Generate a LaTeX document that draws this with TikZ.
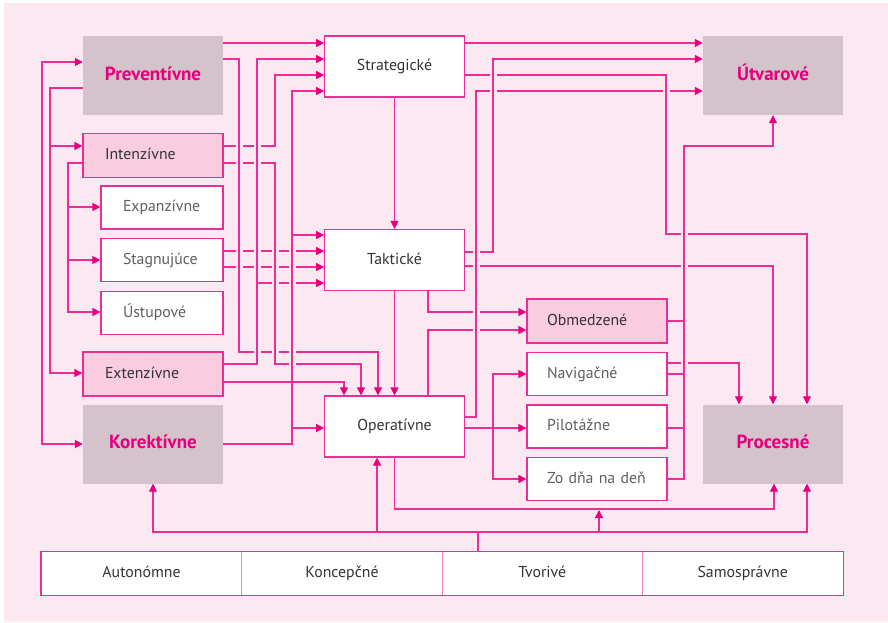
\documentclass[tikz,border=0pt]{standalone}
\usepackage{fontspec}
\setmainfont{PT Sans}
\usetikzlibrary{arrows.meta}
\definecolor{bgc}{RGB}{252,232,241}
\definecolor{lnc}{RGB}{236,45,148}
\definecolor{arc}{RGB}{230,0,126}
\definecolor{grayfill}{RGB}{212,195,202}
\definecolor{pinkfill}{RGB}{249,204,224}
\definecolor{txtdark}{RGB}{51,51,51}
\definecolor{txtgray}{RGB}{95,95,95}
\definecolor{divc}{RGB}{242,130,185}
\newcommand\gapmark[2]{\fill[bgc] (#1-3.5,#2-1.8) rectangle (#1+3.5,#2+1.8); \draw[conn] (#1,#2-2.4) -- (#1,#2+2.4);}
\begin{document}
\begin{tikzpicture}[x=1pt,y=-1pt,
  conn/.style={draw=lnc, line width=1.25pt},
  ar/.style={-{Triangle[length=8pt,width=8pt,color=arc]}},
  bothar/.style={{Triangle[length=8pt,width=8pt,color=arc]}-{Triangle[length=8pt,width=8pt,color=arc]}},
  regtext/.style={font=\fontsize{15.8}{18}\selectfont, text height=12pt, text depth=3.5pt},
  graybox/.style={fill=grayfill, minimum width=140pt, minimum height=79pt, inner sep=0pt,
    font=\bfseries\fontsize{19}{21}\selectfont, text height=13.5pt, text depth=4pt, text=arc},
  mainbox/.style={draw=lnc, line width=1.25pt, fill=white, minimum width=139.5pt, minimum height=61pt,
    inner sep=0pt, regtext, text=txtdark},
  pinkbox/.style={draw=lnc, line width=1.25pt, fill=pinkfill, minimum height=44pt, inner ysep=0pt,
    inner xsep=22pt, text width=96pt, align=left, regtext, text=txtdark},
  subbox/.style={draw=lnc, line width=1.25pt, fill=white, minimum height=43pt, inner ysep=0pt,
    inner xsep=22pt, text width=78pt, align=left, regtext, text=txtgray},
  rbox/.style={draw=lnc, line width=1.25pt, fill=white, minimum height=43pt, inner ysep=0pt,
    inner xsep=20pt, text width=100pt, align=left, regtext, text=txtgray},
  barcell/.style={fill=white, minimum width=200.5pt, minimum height=43pt, inner sep=0pt,
    regtext, text=txtdark}
]
\useasboundingbox (0,0) rectangle (888,622);
\fill[bgc] (4,3) rectangle (888,622);

% left column
\node[graybox] (prev) at (153,75.5) {Preventívne};
\node[pinkbox] (inten) at (153,155.5) {\mbox{Intenzívne}};
\node[subbox] (expan) at (162,207.5) {\mbox{Expanzívne}};
\node[subbox] (stag) at (162,260) {\mbox{Stagnujúce}};
\node[subbox] (ustup) at (162,313) {\mbox{Ústupové}};
\node[pinkbox] (exten) at (153,374) {\mbox{Extenzívne}};
\node[graybox] (korek) at (153,444) {Korektívne};
% middle column
\node[mainbox] (strat) at (394.5,66.5) {Strategické};
\node[mainbox] (takt) at (394.5,260) {Taktické};
\node[mainbox] (oper) at (394.5,426.5) {Operatívne};
% right-middle column
\node[rbox, fill=pinkfill, text=txtdark, minimum height=44pt] (obmed) at (597,321) {\mbox{Obmedzené}};
\node[rbox] (navig) at (597,374) {\mbox{Navigačné}};
\node[rbox] (pilot) at (597,426.5) {\mbox{Pilotážne}};
\node[rbox] (zodna) at (597,479) {\mbox{Zo dňa na deň}};
% right column
\node[graybox] (utvar) at (773,75.5) {Útvarové};
\node[graybox] (proc) at (773,444) {Procesné};
% bottom bar
\node[barcell] (auton) at (141.5,573.5) {Autonómne};
\node[barcell] (konc) at (342,573.5) {Koncepčné};
\node[barcell] (tvor) at (542.3,573.5) {Tvorivé};
\node[barcell] (samo) at (742.7,573.5) {Samosprávne};
\draw[divc, line width=1pt] (auton.north east) -- (auton.south east);
\draw[divc, line width=1pt] (konc.north east) -- (konc.south east);
\draw[divc, line width=1pt] (tvor.north east) -- (tvor.south east);
\draw[lnc, line width=1.25pt] (auton.north west) rectangle (samo.south east);

% ---- left connectors
\draw[conn, bothar] (prev.west |- 0,62) -| (42,444) -- (korek.west |- 0,444);
\draw[conn, ar] (prev.west |- 0,88) -| (50,373) -- (exten.west |- 0,373);
\draw[conn, ar] (50,146) -- (inten.west |- 0,146);
\draw[conn, ar] (inten.west |- 0,163) -| (68,312) -- (ustup.west |- 0,312);
\draw[conn, ar] (68,207) -- (expan.west |- 0,207);
\draw[conn, ar] (68,260) -- (stag.west |- 0,260);

% ---- into strategic / tactical / operative
\draw[conn, ar] (prev.east |- 0,43) -- (strat.west |- 0,43);
\draw[conn, ar] (prev.east |- 0,59) -| (239,352) -| (oper.north -| 378,0);
\draw[conn, ar] (exten.east |- 0,364) -| (257,59) -- (strat.west |- 0,59);
\draw[conn, ar] (257,283) -- (takt.west |- 0,283);
\draw[conn, ar] (inten.east |- 0,146) -| (275,75) -- (strat.west |- 0,75);
\draw[conn, ar] (inten.east |- 0,163) -| (275,364) -| (oper.north -| 361,0);
\draw[conn, ar] (korek.east |- 0,444) -| (292,91) -- (strat.west |- 0,91);
\draw[conn, ar] (292,235) -- (takt.west |- 0,235);
\draw[conn, ar] (292,428) -- (oper.west |- 0,428);
\draw[conn, ar] (stag.east |- 0,251) -- (takt.west |- 0,251);
\draw[conn, ar] (stag.east |- 0,267) -- (takt.west |- 0,267);
\draw[conn, ar] (exten.east |- 0,382) -| (oper.north -| 344,0);
\draw[conn, ar] (strat.south) -- (takt.north);
\draw[conn, ar] (takt.south) -- (oper.north);

% ---- right connectors
\draw[conn, ar] (strat.east |- 0,43) -- (utvar.west |- 0,43);
\draw[conn, ar] (takt.east |- 0,252) -| (493,59) -- (utvar.west |- 0,59);
\draw[conn, ar] (strat.east |- 0,75) -| (666,234) -| (proc.north -| 807,0);
\draw[conn, ar] (oper.east |- 0,417) -| (476,91) -- (utvar.west |- 0,91);
\draw[conn, ar] (takt.east |- 0,266) -| (proc.north -| 773,0);
\draw[conn, ar] (takt.south -| 428,0) |- (obmed.west |- 0,312);
\draw[conn, ar] (oper.north -| 428,0) |- (obmed.west |- 0,330);
\draw[conn, ar] (oper.east |- 0,428) -- (pilot.west |- 0,428);
\draw[conn, ar] (493,428) |- (navig.west |- 0,374);
\draw[conn, ar] (493,428) |- (zodna.west |- 0,479);
\draw[conn, ar] (zodna.east |- 0,479) -| (684,146) -| (utvar.south -| 773,0);
\draw[conn] (obmed.east |- 0,321) -- (684,321);
\draw[conn] (navig.east |- 0,374) -- (684,374);
\draw[conn] (pilot.east |- 0,428) -- (684,428);
\draw[conn, ar] (navig.east |- 0,363) -| (proc.north -| 739,0);
\draw[conn, ar] (oper.south) |- (774,509) -- (proc.south -| 774,0);

% ---- bottom bar connectors
\draw[conn] (tvor.north -| 478,0) -- (478,532);
\draw[conn, ar] (478,532) -| (korek.south -| 153,0);
\draw[conn, ar] (478,532) -| (proc.south -| 807,0);
\draw[conn, ar] (377,532) -- (oper.south -| 377,0);
\draw[conn, ar] (599,532) -- (599,510);

% ---- line crossings (gaps)
\foreach \y in {146,163} {\gapmark{239}{\y}\gapmark{257}{\y}}
\foreach \y in {251,267} {\gapmark{239}{\y}\gapmark{257}{\y}\gapmark{275}{\y}\gapmark{292}{\y}}
\gapmark{275}{283}\gapmark{292}{283}
\gapmark{257}{352}\gapmark{275}{352}\gapmark{292}{352}
\gapmark{292}{364}
\gapmark{493}{75}
\gapmark{493}{91}\gapmark{666}{91}
\gapmark{476}{252}
\gapmark{476}{266}\gapmark{684}{266}
\gapmark{684}{234}
\gapmark{476}{312}\gapmark{476}{330}
\gapmark{684}{363}
\end{tikzpicture}
\end{document}
